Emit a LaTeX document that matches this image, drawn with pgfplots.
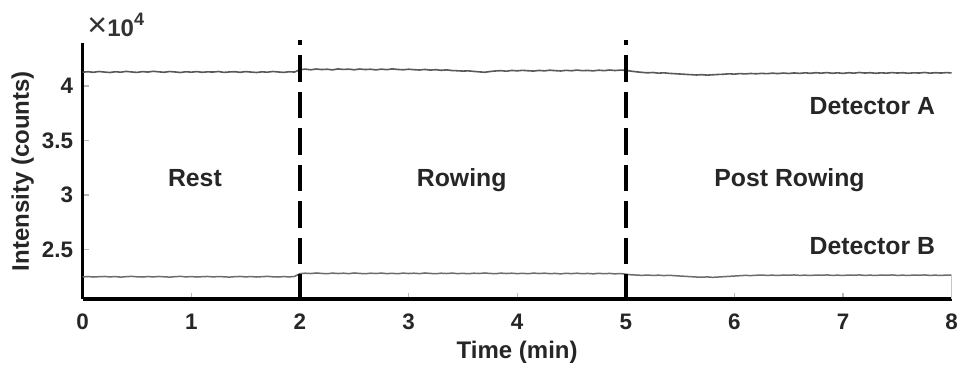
\documentclass[border=0pt]{standalone}
\usepackage{pgfplots}
\pgfplotsset{compat=1.18}
\usepackage{pgfplotstable}
\usepackage{fontspec}
\setmainfont{Liberation Sans}
\pgfplotstableread{
t A B
0.00 4.127 2.247
0.05 4.131 2.250
0.10 4.126 2.246
0.15 4.133 2.249
0.20 4.128 2.251
0.25 4.124 2.247
0.30 4.131 2.250
0.35 4.127 2.245
0.40 4.134 2.249
0.45 4.129 2.252
0.50 4.125 2.248
0.55 4.132 2.246
0.60 4.128 2.250
0.65 4.135 2.247
0.70 4.130 2.251
0.75 4.126 2.248
0.80 4.133 2.245
0.85 4.129 2.249
0.90 4.124 2.252
0.95 4.131 2.247
1.00 4.127 2.250
1.05 4.132 2.246
1.10 4.126 2.249
1.15 4.130 2.251
1.20 4.128 2.247
1.25 4.133 2.250
1.30 4.125 2.248
1.35 4.129 2.245
1.40 4.131 2.249
1.45 4.126 2.251
1.50 4.132 2.247
1.55 4.128 2.250
1.60 4.124 2.246
1.65 4.130 2.249
1.70 4.127 2.252
1.75 4.133 2.248
1.80 4.129 2.246
1.85 4.125 2.250
1.90 4.131 2.247
1.95 4.128 2.251
2.00 4.150 2.277
2.05 4.155 2.281
2.10 4.149 2.278
2.15 4.156 2.283
2.20 4.151 2.279
2.25 4.154 2.276
2.30 4.148 2.282
2.35 4.157 2.278
2.40 4.152 2.281
2.45 4.155 2.277
2.50 4.149 2.283
2.55 4.156 2.279
2.60 4.151 2.276
2.65 4.154 2.281
2.70 4.148 2.278
2.75 4.155 2.282
2.80 4.150 2.277
2.85 4.157 2.280
2.90 4.152 2.276
2.95 4.149 2.282
3.00 4.154 2.278
3.05 4.150 2.281
3.10 4.147 2.277
3.15 4.152 2.283
3.20 4.146 2.279
3.25 4.150 2.276
3.30 4.144 2.281
3.35 4.148 2.278
3.40 4.142 2.282
3.45 4.140 2.277
3.50 4.137 2.280
3.55 4.139 2.276
3.60 4.134 2.281
3.65 4.130 2.278
3.70 4.126 2.283
3.75 4.133 2.279
3.80 4.138 2.276
3.85 4.141 2.282
3.90 4.136 2.278
3.95 4.143 2.281
4.00 4.139 2.277
4.05 4.144 2.280
4.10 4.140 2.276
4.15 4.137 2.282
4.20 4.143 2.278
4.25 4.139 2.281
4.30 4.145 2.277
4.35 4.141 2.279
4.40 4.138 2.275
4.45 4.144 2.280
4.50 4.140 2.277
4.55 4.146 2.281
4.60 4.141 2.276
4.65 4.143 2.279
4.70 4.139 2.275
4.75 4.145 2.280
4.80 4.141 2.276
4.85 4.147 2.279
4.90 4.142 2.275
4.95 4.146 2.278
5.00 4.144 2.272
5.05 4.136 2.266
5.10 4.130 2.264
5.15 4.125 2.261
5.20 4.121 2.264
5.25 4.124 2.260
5.30 4.118 2.263
5.35 4.121 2.259
5.40 4.116 2.262
5.45 4.113 2.258
5.50 4.110 2.255
5.55 4.107 2.252
5.60 4.104 2.249
5.65 4.101 2.246
5.70 4.104 2.244
5.75 4.100 2.247
5.80 4.103 2.243
5.85 4.106 2.246
5.90 4.108 2.249
5.95 4.112 2.252
6.00 4.109 2.255
6.05 4.114 2.258
6.10 4.111 2.261
6.15 4.115 2.259
6.20 4.112 2.262
6.25 4.116 2.264
6.30 4.113 2.261
6.35 4.118 2.263
6.40 4.114 2.260
6.45 4.119 2.264
6.50 4.115 2.262
6.55 4.120 2.265
6.60 4.116 2.261
6.65 4.121 2.263
6.70 4.117 2.260
6.75 4.122 2.264
6.80 4.118 2.262
6.85 4.123 2.265
6.90 4.117 2.261
6.95 4.121 2.263
7.00 4.116 2.260
7.05 4.122 2.264
7.10 4.118 2.262
7.15 4.124 2.265
7.20 4.119 2.261
7.25 4.122 2.263
7.30 4.117 2.260
7.35 4.121 2.264
7.40 4.118 2.262
7.45 4.123 2.265
7.50 4.119 2.261
7.55 4.122 2.263
7.60 4.117 2.260
7.65 4.121 2.264
7.70 4.119 2.262
7.75 4.124 2.265
7.80 4.118 2.261
7.85 4.122 2.263
7.90 4.119 2.260
7.95 4.123 2.264
8.00 4.120 2.262
}\datatable

\begin{document}
\begin{tikzpicture}
\path[use as bounding box] (-41.35pt,-36.5pt) rectangle (441.65pt,149.5pt);
\begin{axis}[
  at={(0,0)}, anchor=south west,
  scale only axis, width=434.5pt, height=127.85pt,
  xmin=0, xmax=8, ymin=2.044, ymax=4.392,
  axis x line*=bottom, axis y line*=left,
  axis line style={-, line width=1.6pt, black},
  xtick={0,1,2,3,4,5,6,7,8}, xticklabels={0,1,2,3,4,5,6,7,8},
  ytick={2.5,3,3.5,4}, yticklabels={2.5,3,3.5,4},
  tick align=inside, major tick length=3pt,
  tick style={gray!55, line width=0.6pt},
  ticklabel style={font=\fontsize{11.2}{13}\selectfont\bfseries, text=black!85},
  xticklabel style={yshift=-4pt},
  yticklabel style={xshift=-1.3pt},
  xlabel={Time (min)}, ylabel={Intensity (counts)},
  label style={font=\fontsize{12}{14}\selectfont\bfseries, text=black!85},
  xlabel style={at={(axis description cs:0.5,0)}, anchor=center, yshift=-26.5pt},
  ylabel style={at={(axis description cs:0,0.5)}, anchor=center, yshift=30pt},
  clip=false,
]
\addplot[black!65, line width=0.8pt] table[x=t, y=A] {\datatable};
\addplot[black!58, line width=0.75pt] table[x=t, y=B] {\datatable};
\addplot[black, line width=1.8pt, dash pattern=on 13.25pt off 5pt, dash phase=10.75pt] coordinates {(2,4.422) (2,2.044)};
\addplot[black, line width=1.8pt, dash pattern=on 13.25pt off 5pt, dash phase=10.75pt] coordinates {(5,4.422) (5,2.044)};
\draw[gray!45, line width=0.4pt] (axis cs:8,2.044) -- (axis cs:8,2.262);
\node[anchor=base west, inner sep=0pt, font=\fontsize{12}{14}\selectfont\bfseries, text=black!80, xshift=2.2pt, yshift=3.2pt] at (rel axis cs:0,1) {{\fontsize{17}{17}\selectfont\mdseries ×}10\raisebox{5.5pt}{\fontsize{9}{9}\selectfont 4}};
\node[anchor=base, font=\fontsize{12.4}{14}\selectfont\bfseries, text=black!85] at (axis cs:1.033,3.073) {Rest};
\node[anchor=base, font=\fontsize{12.4}{14}\selectfont\bfseries, text=black!85] at (axis cs:3.489,3.073) {Rowing};
\node[anchor=base, font=\fontsize{12.4}{14}\selectfont\bfseries, text=black!85] at (axis cs:6.507,3.073) {Post Rowing};
\node[anchor=base, font=\fontsize{12.4}{14}\selectfont\bfseries, text=black!85] at (axis cs:7.27,3.734) {Detector A};
\node[anchor=base, font=\fontsize{12.4}{14}\selectfont\bfseries, text=black!85] at (axis cs:7.27,2.455) {Detector B};
\end{axis}
\end{tikzpicture}
\end{document}
